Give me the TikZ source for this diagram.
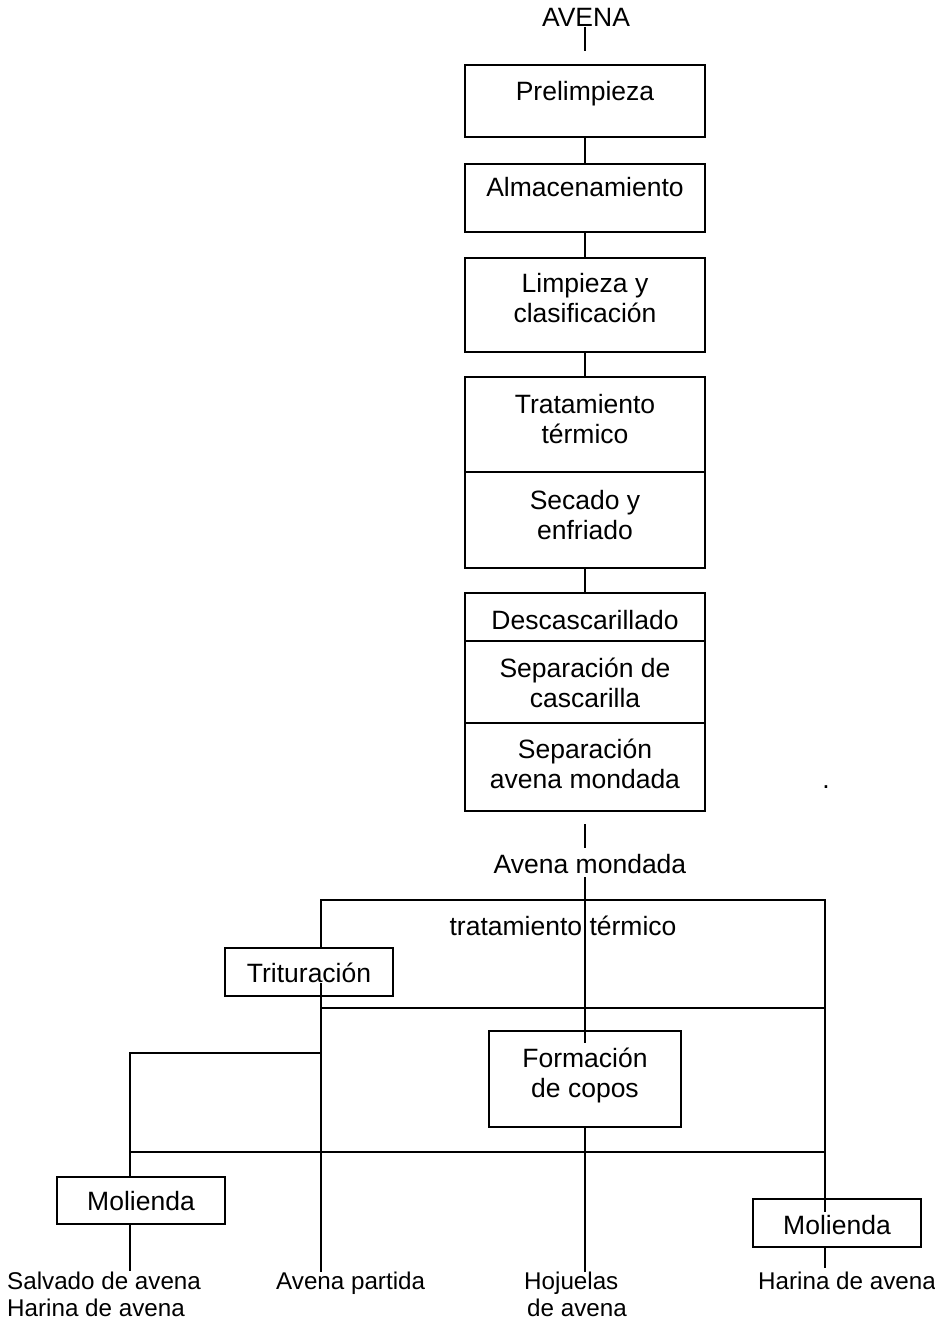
\documentclass[tikz,border=0pt]{standalone}
\usepackage{fontspec}
\setmainfont{Liberation Sans}
\begin{document}
\begin{tikzpicture}[x=1pt,y=-1pt,
  box/.style={draw,line width=1.8pt,inner sep=0pt,minimum width=#1},
  txt/.style={inner sep=0pt,anchor=base,font=\fontsize{26.5}{30}\selectfont},
  small/.style={inner sep=0pt,anchor=base west,font=\fontsize{24.2}{27}\selectfont},
  ln/.style={line width=1.8pt}]
\useasboundingbox (0,0) rectangle (934,1321);
% boxes
\node[box=240,minimum height=72] (pre) at (585,101) {};
\node[box=240,minimum height=68] (alm) at (585,198) {};
\node[box=240,minimum height=94] (lim) at (585,305) {};
\node[box=240,minimum height=191] (tra) at (585,472.5) {};
\node[box=240,minimum height=218] (des) at (585,702) {};
\node[box=168,minimum height=48] (trit) at (309,972) {};
\node[box=192,minimum height=96] (form) at (585,1079) {};
\node[box=168,minimum height=47] (mol1) at (141,1200.5) {};
\node[box=168,minimum height=48] (mol2) at (837,1223) {};
% dividers
\draw[ln] (tra.west |- 0,472) coordinate (d1a) -- (tra.east |- 0,472) coordinate (d1b);
\draw[ln] (des.west |- 0,641) coordinate (d2a) -- (des.east |- 0,641) coordinate (d2b);
\draw[ln] (des.west |- 0,723) coordinate (d3a) -- (des.east |- 0,723) coordinate (d3b);
% texts
\node[txt] (tAvena) at (586,27) {AVENA};
\node[txt] (tPre) at (585,101) {Prelimpieza};
\node[txt] (tAlm) at (585,197) {Almacenamiento};
\node[txt] (tLim1) at (585,293) {Limpieza y};
\node[txt] (tLim2) at (585,323) {clasificación};
\node[txt] (tTra1) at (585,413) {Tratamiento};
\node[txt] (tTra2) at (585,443) {térmico};
\node[txt] (tSec1) at (585,509) {Secado y};
\node[txt] (tSec2) at (585,539) {enfriado};
\node[txt] (tDes) at (585,629) {Descascarillado};
\node[txt] (tSep1) at (585,677) {Separación de};
\node[txt] (tSep2) at (585,707) {cascarilla};
\node[txt] (tSepA1) at (585,758) {Separación};
\node[txt] (tSepA2) at (585,788) {avena mondada};
\node[txt] (tDot) at (826,788) {.};
\node[txt] (tMond) at (590,873) {Avena mondada};
\node[txt] (tTerm) at (563,935) {tratamiento térmico};
\node[txt] (tTrit) at (309,982) {Trituración};
\node[txt] (tForm1) at (585,1067) {Formación};
\node[txt] (tForm2) at (585,1097) {de copos};
\node[txt] (tMol1) at (141,1210) {Molienda};
\node[txt] (tMol2) at (837,1234) {Molienda};
\node[small] (oSal) at (7,1289) {Salvado de avena};
\node[small] (oHar1) at (7,1316) {Harina de avena};
\node[small] (oPar) at (276,1289) {Avena partida};
\node[small] (oHoj1) at (524,1289) {Hojuelas};
\node[small] (oHoj2) at (527,1316) {de avena};
\node[small] (oHar2) at (758,1289) {Harina de avena};
% coordinates
\coordinate (a0) at (585,27);
\coordinate (a1) at (585,51);
\coordinate (m0) at (585,824);
\coordinate (m1) at (585,848);
\coordinate (c0) at (585,877);
\coordinate (c1) at (585,1043);
\coordinate (tl) at (321,900);
\coordinate (tr) at (825,900);
\coordinate (ml) at (321,1008);
\coordinate (mr) at (825,1008);
\coordinate (l0) at (321,983);
\coordinate (l1) at (321,1272);
\coordinate (b1) at (321,1053);
\coordinate (b0) at (130,1053);
\coordinate (h0) at (130,1152);
\coordinate (h1) at (825,1152);
\coordinate (r1) at (825,1212);
\coordinate (e1) at (130,1271);
\coordinate (e3) at (585,1272);
\coordinate (e4) at (825,1268);
% connectors
\draw[ln] (a0) -- (a1);
\draw[ln] (pre.south) -- (alm.north);
\draw[ln] (alm.south) -- (lim.north);
\draw[ln] (lim.south) -- (tra.north);
\draw[ln] (tra.south) -- (des.north);
\draw[ln] (m0) -- (m1);
\draw[ln] (c0) -- (c1);
\draw[ln] (trit.north -| tl) -- (tl) -- (tr) -- (r1);
\draw[ln] (ml) -- (mr);
\draw[ln] (l0) -- (l1);
\draw[ln] (b1) -- (b0) -- (mol1.north -| b0);
\draw[ln] (h0) -- (h1);
\draw[ln] (mol1.south -| b0) -- (e1);
\draw[ln] (form.south) -- (e3);
\draw[ln] (mol2.south -| e4) -- (e4);
\end{tikzpicture}
\end{document}
